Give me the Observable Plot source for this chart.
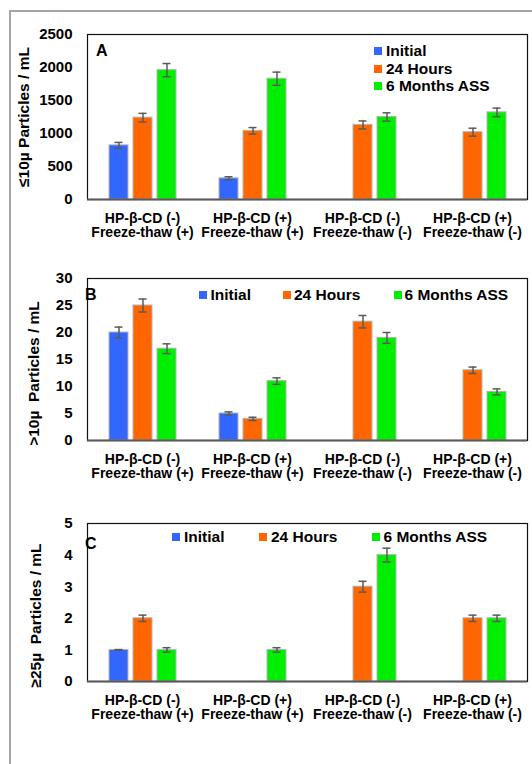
<!DOCTYPE html>
<html><head><meta charset="utf-8">
<script src="https://cdn.jsdelivr.net/npm/d3@7"></script>
<script src="https://cdn.jsdelivr.net/npm/@observablehq/plot@0.6"></script>
<style>
body{margin:0;background:#fff;font-family:"Liberation Sans",Arial,sans-serif;}
#root{position:relative;width:532px;height:764px;overflow:hidden;background:#fff}
#border{position:absolute;left:9px;top:10px;width:600px;height:800px;border:2px solid #a6a6a6;}
.panel{position:absolute;left:0}
.leg{position:absolute;font-weight:bold;font-size:15.5px;line-height:17px;white-space:nowrap;color:#000}
.sw{position:absolute;width:8px;height:8px}
.letter{position:absolute;font-weight:bold;font-size:16px;line-height:16px;color:#000}
</style></head><body><div id="root"><div id="border"></div></div>
<script>
// ---- data ----
const groups = ["HP-β-CD (-)\nFreeze-thaw (+)", "HP-β-CD (+)\nFreeze-thaw (+)", "HP-β-CD (-)\nFreeze-thaw (-)", "HP-β-CD (+)\nFreeze-thaw (-)"];
const series = ["Initial", "24 Hours", "6 Months ASS"];
const colors = ["#3366ff", "#ff6600", "#00ee00"];

// Panel A: ≤10µ particles / mL
const aInitial = [820, 320, null, null];
const a24h     = [1240, 1040, 1130, 1020];
const a6m      = [1960, 1830, 1250, 1320];
const aInitialErr = [45, 25, null, null];
const a24hErr     = [65, 50, 60, 60];
const a6mErr      = [100, 100, 63, 65];
const aTicks = [0, 500, 1000, 1500, 2000, 2500];

// Panel B: >10µ particles / mL
const bInitial = [20, 5, null, null];
const b24h     = [25, 4, 22, 13];
const b6m      = [17, 11, 19, 9];
const bInitialErr = [1.0, 0.3, null, null];
const b24hErr     = [1.2, 0.3, 1.15, 0.6];
const b6mErr      = [0.9, 0.6, 1.0, 0.55];
const bTicks = [0, 5, 10, 15, 20, 25, 30];

// Panel C: ≥25µ particles / mL
const cInitial = [1, null, null, null];
const c24h     = [2, null, 3, 2];
const c6m      = [1, 1, 4, 2];
const cInitialErr = [0.01, null, null, null];
const c24hErr     = [0.1, null, 0.17, 0.1];
const c6mErr      = [0.07, 0.07, 0.22, 0.1];
const cTicks = [0, 1, 2, 3, 4, 5];

// ---- build ----
function table(vals, errs) {
  const rows = [];
  series.forEach((s, si) => {
    groups.forEach((g, gi) => {
      const v = vals[si][gi];
      if (v == null) return;
      rows.push({group: g, series: s, value: v, err: errs[si][gi] || 0});
    });
  });
  return rows;
}

const root = document.getElementById("root");

function panel(cfg) {
  const data = table(cfg.vals, cfg.errs);
  const chart = Plot.plot({
    width: 532, height: cfg.height,
    marginLeft: 86, marginRight: 5, marginTop: cfg.mt, marginBottom: cfg.mb,
    style: {fontFamily: '"Liberation Sans", Arial, sans-serif', fontWeight: "bold", color: "#000", background: "transparent", overflow: "visible"},
    fx: {domain: groups, padding: 0},
    x: {domain: series, paddingInner: 0.224, paddingOuter: 0.862, axis: null},
    y: {domain: [0, cfg.ticks[cfg.ticks.length - 1]]},
    color: {domain: series, range: colors},
    marks: [
      Plot.barY(data, {fx: "group", x: "series", y: "value", fill: "series", stroke: "#b4b4b4", strokeWidth: 1}),
      Plot.ruleX(data, {fx: "group", x: "series", y1: d => d.value - d.err, y2: d => d.value + d.err, stroke: "#5a5a5a", strokeWidth: 1.5}),
      Plot.tickY(data, {fx: "group", x: "series", y: d => d.value + d.err, stroke: "#5a5a5a", strokeWidth: 1.5, insetLeft: 5.5, insetRight: 5.5}),
      Plot.tickY(data, {fx: "group", x: "series", y: d => d.value - d.err, stroke: "#5a5a5a", strokeWidth: 1.5, insetLeft: 5.5, insetRight: 5.5}),
      Plot.frame({facet: "super", stroke: "#111", strokeWidth: 1.2}),
      Plot.ruleY([0], {stroke: "#5a5a5a", strokeWidth: 2}),
      Plot.axisY({ticks: cfg.ticks, tickFormat: d => String(d), tickSize: 0, tickPadding: 15, fontSize: 15, fontWeight: "bold", label: null}),
      Plot.axisFx({anchor: "bottom", tickSize: 0, tickPadding: 13, fontSize: 14, fontWeight: "bold", lineHeight: 1.03, label: null}),
      Plot.text([cfg.label], {facet: "super", frameAnchor: "left", textAnchor: "middle", lineAnchor: "middle", rotate: -90, dx: cfg.ldx, dy: cfg.ldy, fontSize: 15.5, fontWeight: "bold", fill: "#000"})
    ]
  });
  chart.classList.add("panel");
  chart.style.top = cfg.top + "px";
  root.appendChild(chart);

  const letter = document.createElement("div");
  letter.className = "letter";
  letter.textContent = cfg.letter;
  letter.style.left = cfg.letterPos[0] + "px";
  letter.style.top = cfg.letterPos[1] + "px";
  root.appendChild(letter);

  series.forEach((s, i) => {
    const [sx, tx, y] = cfg.legend[i];
    const sw = document.createElement("div");
    sw.className = "sw";
    sw.style.background = colors[i];
    sw.style.left = sx + "px";
    sw.style.top = (y - 4) + "px";
    root.appendChild(sw);
    const t = document.createElement("div");
    t.className = "leg";
    t.textContent = s;
    t.style.left = tx + "px";
    t.style.top = (y - 9) + "px";
    root.appendChild(t);
  });
}

panel({
  top: 0, height: 250, mt: 34, mb: 51,
  vals: [aInitial, a24h, a6m], errs: [aInitialErr, a24hErr, a6mErr], ticks: aTicks,
  label: "≤10µ Particles / mL", ldx: -63, ldy: 0,
  letter: "A", letterPos: [96, 43],
  legend: [[374, 386, 51], [374, 386, 68.5], [374, 386, 85.5]]
});
panel({
  top: 250, height: 250, mt: 28, mb: 60,
  vals: [bInitial, b24h, b6m], errs: [bInitialErr, b24hErr, b6mErr], ticks: bTicks,
  label: ">10µ\u00a0\u00a0Particles / mL", ldx: -53, ldy: 14,
  letter: "B", letterPos: [85, 287],
  legend: [[199, 210.5, 295], [283, 294, 295], [394, 404.5, 295]]
});
panel({
  top: 500, height: 264, mt: 23, mb: 83,
  vals: [cInitial, c24h, c6m], errs: [cInitialErr, c24hErr, c6mErr], ticks: cTicks,
  label: "≥25µ\u00a0\u00a0Particles / mL", ldx: -51, ldy: 13,
  letter: "C", letterPos: [85, 536],
  legend: [[172, 184, 537], [259, 271, 537], [372, 383.5, 537]]
});
</script>
</body></html>
